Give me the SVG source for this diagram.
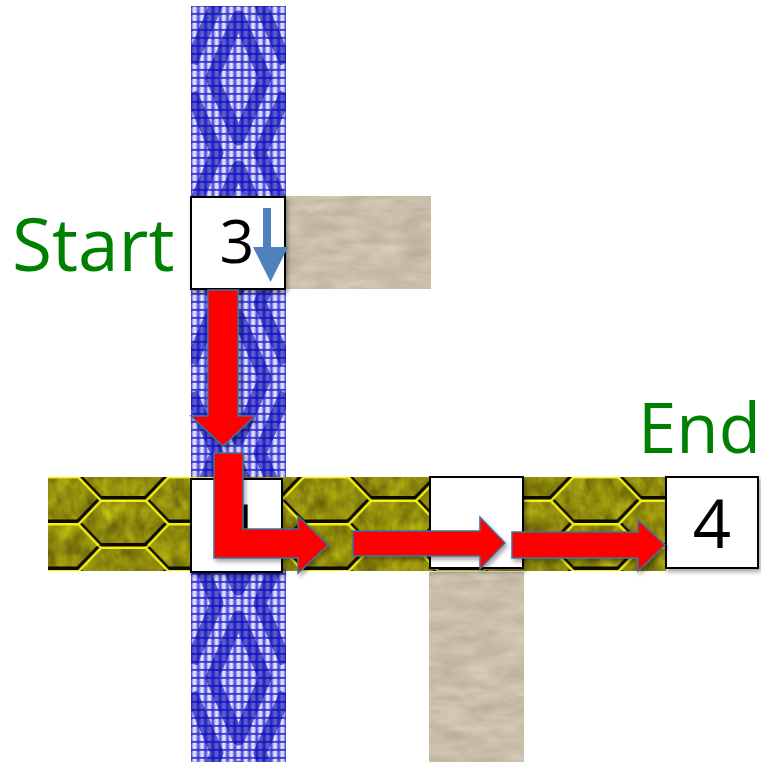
<svg xmlns="http://www.w3.org/2000/svg" width="761" height="762" viewBox="0 0 761 762">
<style>
.lbl{font-family:"Open Sans","Liberation Sans",sans-serif;fill:#008000}
.num{font-family:"Open Sans","Liberation Sans",sans-serif;fill:#000;text-anchor:middle}
.box{fill:#fff;stroke:#000;stroke-width:2}
.red{fill:#ff0000;stroke:#41719c;stroke-width:1.5;stroke-linejoin:miter}
</style>
<defs>
<linearGradient id="cg" x1="0" y1="0" x2="1" y2="0">
<stop offset="0" stop-color="#7a7ae6"/><stop offset="0.5" stop-color="#f4f4ff"/><stop offset="1" stop-color="#7a7ae6"/>
</linearGradient>
<pattern id="weave" patternUnits="userSpaceOnUse" x="191" y="6" width="7.3077" height="8">
<rect width="7.3077" height="8" fill="#3a3ad0"/>
<rect x="0.6" y="0.7" width="6.1" height="6.4" rx="1.5" fill="url(#cg)"/>
</pattern>
<pattern id="motif" patternUnits="userSpaceOnUse" x="191" y="3" width="95" height="150">
<g fill="none" stroke="#0606b0" stroke-width="13" stroke-linejoin="round" opacity="0.6">
<path d="M47.5,14 L74,75 L47.5,136 L21,75 Z"/>
<path d="M0,-60 L26,0 L0,60"/>
<path d="M0,90 L26,150 L0,210"/>
<path d="M95,-60 L69,0 L95,60"/>
<path d="M95,90 L69,150 L95,210"/>
</g>
</pattern>
<pattern id="hex" patternUnits="userSpaceOnUse" x="55.5" y="498" width="135" height="47">
<path id="hp" d="M22.5,23.5 L45,0 L90,0 L112.5,23.5 L90,47 L45,47 Z M-45,0 L-22.5,-23.5 L22.5,-23.5 L45,0 L22.5,23.5 L-22.5,23.5 Z M90,0 L112.5,-23.5 L157.5,-23.5 L180,0 L157.5,23.5 L112.5,23.5 Z M-45,47 L-22.5,23.5 L22.5,23.5 L45,47 L22.5,70.5 L-22.5,70.5 Z M90,47 L112.5,23.5 L157.5,23.5 L180,47 L157.5,70.5 L112.5,70.5 Z" fill="none"/>
<use href="#hp" stroke="#0a0a00" stroke-width="4" stroke-linejoin="round"/>
<use href="#hp" transform="translate(0.5,2.8)" stroke="#f4f010" stroke-width="2.4" stroke-linejoin="round"/>
</pattern>
<filter id="beigeTex" x="0" y="0" width="1" height="1" color-interpolation-filters="sRGB">
<feTurbulence type="fractalNoise" baseFrequency="0.03 0.09" numOctaves="3" seed="5"/>
<feColorMatrix type="matrix" values="0.33 0.33 0.33 0 0  0.33 0.33 0.33 0 0  0.33 0.33 0.33 0 0  0 0 0 0 1"/>
<feComponentTransfer>
<feFuncR type="linear" slope="0.3" intercept="0.64"/>
<feFuncG type="linear" slope="0.3" intercept="0.60"/>
<feFuncB type="linear" slope="0.3" intercept="0.52"/>
</feComponentTransfer>
</filter>
<filter id="oliveTex" x="0" y="0" width="1" height="1" color-interpolation-filters="sRGB">
<feTurbulence type="fractalNoise" baseFrequency="0.07 0.05" numOctaves="3" seed="11"/>
<feColorMatrix type="matrix" values="0.33 0.33 0.33 0 0  0.33 0.33 0.33 0 0  0.33 0.33 0.33 0 0  0 0 0 0 1"/>
<feComponentTransfer>
<feFuncR type="linear" slope="0.8" intercept="0.17"/>
<feFuncG type="linear" slope="0.8" intercept="0.15"/>
<feFuncB type="linear" slope="0.1" intercept="0.0"/>
</feComponentTransfer>
</filter>
<filter id="shadow" x="-10%" y="-10%" width="130%" height="130%">
<feDropShadow dx="2" dy="3" stdDeviation="2" flood-color="#000" flood-opacity="0.35"/>
</filter>
</defs>
<rect width="761" height="762" fill="#fff"/>

<g id="tiles">
<g id="blue-column">
<rect x="191" y="6" width="95" height="756" fill="url(#weave)"/>
<rect x="191" y="6" width="95" height="756" fill="url(#motif)"/>
</g>
<g id="beige-top">
<rect x="285" y="196" width="146" height="93" fill="#c8bfae" filter="url(#beigeTex)"/>
</g>
<g id="yellow-row">
<rect x="48" y="477" width="618" height="94" fill="#8f8a10" filter="url(#oliveTex)"/>
<rect x="48" y="477" width="618" height="94" fill="url(#hex)"/>
</g>
<g id="beige-bottom">
<rect x="429" y="572" width="95" height="190" fill="#c8bfae" filter="url(#beigeTex)"/>
</g>
</g>

<g id="node-start">
<rect class="box" x="191" y="197" width="94" height="92" filter="url(#shadow)"/>
<text class="num" x="237" y="263" font-size="61">3</text>
</g>
<g id="node-junction">
<rect class="box" x="191" y="479" width="91" height="93" filter="url(#shadow)"/>
<text class="num" x="237" y="553" font-size="67">4</text>
</g>
<g id="node-middle">
<rect class="box" x="430" y="477" width="93" height="91" filter="url(#shadow)"/>
</g>
<g id="node-end">
<rect class="box" x="666" y="477" width="92" height="91" filter="url(#shadow)"/>
<text class="num" x="712" y="548" font-size="67">4</text>
</g>

<g id="labels">
<text class="lbl" x="12" y="271" font-size="73">Start</text>
<text class="lbl" x="638" y="453" font-size="69">End</text>
</g>

<g id="connectors">
<line x1="267" y1="208" x2="267" y2="249" stroke="#4f81bd" stroke-width="8"/>
<path d="M253,247 L288,247 L270.5,282 Z" fill="#4f81bd"/>
<g filter="url(#shadow)">
<polygon class="red" points="208,290 238,290 238,416 255,416 223,446 191,416 208,416"/>
<polygon class="red" points="214,453 243,453 243,529 298,529 298,516 328,545 298,573 298,558 214,558"/>
<polygon class="red" points="353,531 480,531 480,517 505,543 480,569 480,556 353,556"/>
<polygon class="red" points="512,532 638,532 638,520 665,545 638,571 638,558 512,558"/>
</g>
</g>
</svg>
